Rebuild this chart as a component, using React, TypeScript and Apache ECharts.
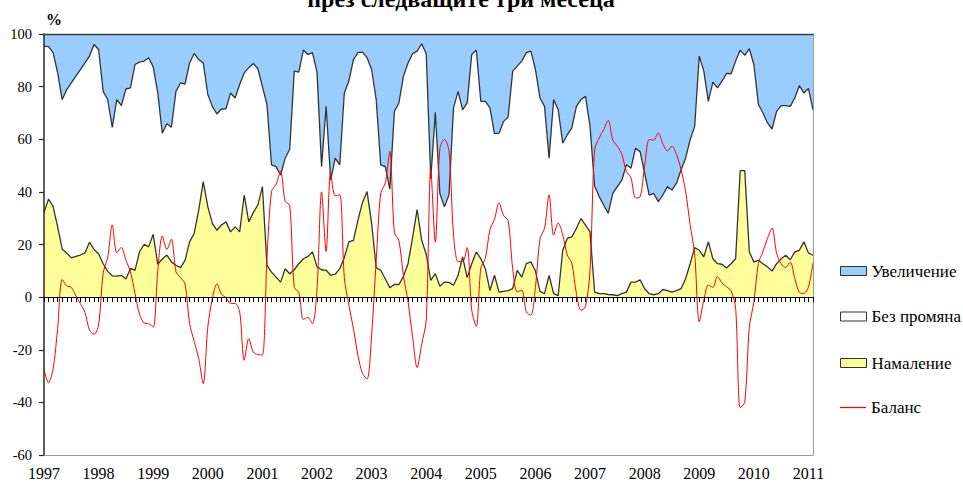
import React, { useEffect, useRef } from 'react';
import * as echarts from 'echarts';

// Monthly survey shares, Jan 1997 – Feb 2011 (%)
const startYear = 1997;

// "Увеличение" (increase) share
const increase: number[] = [
  4.6, 4.8, 7.1, 14.8, 24.9, 21.1, 18.6, 16, 13.5, 11, 8.4, 4,
  5.9, 21.8, 24.9, 35.5, 24.9, 27.2, 20.9, 20.5, 11.6, 10.7, 10.3, 9,
  12.5, 22.4, 37.7, 34.1, 35.4, 21.8, 18.6, 19, 11, 7.4, 9.7, 11,
  23, 27.5, 30.4, 28.5, 28.4, 22.4, 24.3, 19.2, 14.8, 12.8, 11.2, 13.2,
  20, 26.8, 49.7, 50.4, 53.6, 47.2, 43.8, 14.1, 14.5, 6.1, 7.8, 7.1,
  14.5, 50.4, 27.5, 55.5, 47.2, 49.7, 22.4, 17.9, 9.7, 7.1, 6.9, 9,
  13.5, 24.9, 49.7, 50.4, 59, 29.4, 26.2, 16, 11, 7.5, 6.5, 3.7,
  7.5, 55, 29.8, 60.6, 65.7, 61.2, 28.1, 21.8, 28.8, 26.2, 7.8, 6.1,
  25.6, 25.6, 28.1, 37.9, 37.7, 33.2, 31.6, 14.1, 12.2, 10.3, 7.1, 6.5,
  13.5, 24.3, 27.5, 47.2, 24.9, 28.8, 41.5, 38.3, 35.7, 27.5, 24.9, 23.7,
  35.1, 57.8, 61.8, 65, 68.2, 60.6, 58, 55.5, 49.7, 51, 43.4, 44.7,
  52.9, 61.2, 60.6, 63.7, 61.2, 58, 59.3, 56.7, 51.7, 47.2, 40.2, 35.1,
  8.4, 14.1, 25.6, 18.3, 20.5, 17.9, 15, 15.1, 10.3, 6.1, 8.1, 5.6,
  11.6, 26.8, 30, 33.8, 36.1, 29.4, 27.2, 27.2, 27.5, 24.3, 19.6, 22.4,
  20.7, 28.8,
];

// "Намаление" (decrease) share
const decrease: number[] = [
  32.1, 37.3, 34.4, 26.7, 18.2, 16.8, 14.9, 15.5, 16, 16.8, 20.9, 18.1,
  16.5, 12.7, 9.8, 8.1, 8, 8.3, 6.9, 10.9, 10.2, 17.2, 20.1, 19.1,
  23.9, 12.5, 14.5, 16, 13.4, 12.1, 11.2, 14, 21, 24.2, 33.1, 43.9,
  34.4, 28, 25.4, 27.4, 28.6, 24.8, 26.7, 24.8, 38.8, 28.6, 32.1, 35,
  42, 12.1, 9.5, 7.6, 5.7, 10.8, 8.9, 10.4, 12.7, 14.6, 15.5, 17.2,
  11.5, 10.4, 10.2, 8.3, 8.7, 10.8, 15, 21, 21.6, 29.3, 36, 40.1,
  28, 11.2, 10.2, 7, 3.6, 4.8, 4.8, 7.9, 12.7, 22.6, 33.3, 21.6,
  16.3, 6.4, 8.9, 4.1, 5.7, 5.6, 4.5, 8.3, 15.3, 7.4, 12.7, 17.2,
  14.6, 10.8, 2.5, 8.3, 1.9, 2.2, 2.5, 3.2, 10.2, 7.6, 12.7, 13.4,
  9.9, 2.2, 1.3, 8.3, 1.3, 0.6, 17.8, 22.3, 22.9, 26.1, 29.9, 27.4,
  24.8, 1.9, 1.3, 1.3, 1, 0.9, 0.6, 1.3, 1.9, 5.7, 5.7, 6.6,
  3.2, 1.3, 0.9, 1.3, 2.9, 2.5, 1.9, 2.5, 3.2, 7, 12.7, 18.8,
  17.8, 15.3, 21, 14.6, 12.7, 12.5, 11.1, 12.7, 14.6, 48.1, 48.1, 17.2,
  13.4, 14, 12.7, 11.5, 9.9, 12.7, 14.6, 15.9, 14.2, 17.2, 17.8, 21,
  16.8, 15.9,
];

const yTicks = { min: -60, max: 100, interval: 20 };

const months: string[] = increase.map(
  (_, i) => `${startYear + Math.floor(i / 12)}-${String((i % 12) + 1).padStart(2, '0')}`
);
// "Без промяна" = rest of 100%; "Баланс" = increase − decrease
const noChange: number[] = increase.map((v, i) => +(100 - v - decrease[i]).toFixed(1));
const balance: number[] = increase.map((v, i) => +(v - decrease[i]).toFixed(1));

const FONT = 'Liberation Serif, serif';

export default function App() {
  const ref = useRef<HTMLDivElement>(null);

  useEffect(() => {
    if (!ref.current) return;
    const chart = echarts.init(ref.current, undefined, { renderer: 'svg' });

    const legendText = { fontFamily: FONT, fontSize: 17, color: '#000' };
    const legendCommon = {
      orient: 'vertical',
      left: 840,
      padding: 0,
      itemWidth: 26,
      itemHeight: 9,
      selectedMode: false,
      textStyle: legendText,
    };

    const option: any = {
      animation: false,
      backgroundColor: '#ffffff',
      textStyle: { fontFamily: FONT },
      grid: { left: 44, right: 150, top: 34, bottom: 29, show: false },
      xAxis: [
        {
          type: 'category',
          data: months,
          boundaryGap: false,
          position: 'bottom',
          z: 10,
          axisLine: { show: true, onZero: false, lineStyle: { color: '#9a9a9a', width: 1 } },
          axisTick: { show: false },
          axisLabel: {
            show: true,
            interval: 11,
            formatter: (v: string) => v.slice(0, 4),
            fontFamily: FONT,
            fontSize: 16,
            color: '#000',
            margin: 10,
          },
          splitLine: { show: false },
        },
        {
          type: 'category',
          data: months,
          boundaryGap: false,
          position: 'bottom',
          z: 10,
          axisLine: { show: true, onZero: true, lineStyle: { color: '#000', width: 1 } },
          axisTick: { show: true, interval: 0, length: 5, inside: false, lineStyle: { color: '#000' } },
          axisLabel: { show: false },
          splitLine: { show: false },
        },
        {
          type: 'category',
          data: months,
          boundaryGap: false,
          position: 'top',
          z: 10,
          axisLine: { show: true, onZero: false, lineStyle: { color: '#3a3a3a', width: 1.3 } },
          axisTick: { show: false },
          axisLabel: { show: false },
          splitLine: { show: false },
        },
      ],
      yAxis: [
        {
          type: 'value',
          ...yTicks,
          position: 'left',
          z: 10,
          axisLine: { show: true, onZero: false, lineStyle: { color: '#2a2a2a', width: 1.5 } },
          axisTick: { show: true, length: 5, lineStyle: { color: '#2a2a2a', width: 1.2 } },
          axisLabel: { show: true, fontFamily: FONT, fontSize: 14.5, color: '#000', margin: 12 },
          splitLine: { show: false },
        },
        {
          type: 'value',
          ...yTicks,
          position: 'right',
          z: 10,
          axisLine: { show: true, onZero: false, lineStyle: { color: '#9a9a9a', width: 1 } },
          axisTick: { show: false },
          axisLabel: { show: false },
          splitLine: { show: false },
        },
      ],
      legend: [
        {
          ...legendCommon,
          top: 262.5,
          data: [{ name: 'Увеличение', icon: 'rect', itemStyle: { color: '#99CCFF', borderColor: '#333', borderWidth: 1 } }],
        },
        {
          ...legendCommon,
          top: 308,
          data: [{ name: 'Без промяна', icon: 'rect', itemStyle: { color: '#FFFFFF', borderColor: '#333', borderWidth: 1 } }],
        },
        {
          ...legendCommon,
          top: 354.5,
          data: [{ name: 'Намаление', icon: 'rect', itemStyle: { color: '#FFFF99', borderColor: '#333', borderWidth: 1 } }],
        },
        {
          ...legendCommon,
          top: 399,
          itemHeight: 1.2,
          data: [{ name: 'Баланс', icon: 'rect', itemStyle: { color: '#FF0000', borderWidth: 0 } }],
        },
      ],
      graphic: [
        {
          type: 'text',
          x: 461,
          y: -1.5,
          style: {
            text: 'през следващите три месеца',
            font: `bold 24px ${FONT}`,
            fill: '#000',
            textAlign: 'center',
            textVerticalAlign: 'middle',
          },
        },
        {
          type: 'text',
          x: 54,
          y: 19,
          style: {
            text: '%',
            font: `bold 16px ${FONT}`,
            fill: '#000',
            textAlign: 'center',
            textVerticalAlign: 'middle',
          },
        },
      ],
      series: [
        {
          name: 'Намаление',
          type: 'line',
          stack: 'shares',
          data: decrease,
          symbol: 'none',
          z: 4,
          lineStyle: { color: '#333', width: 1.3 },
          itemStyle: { color: '#FFFF99' },
          areaStyle: { color: '#FFFF99', opacity: 1 },
        },
        {
          name: 'Без промяна',
          type: 'line',
          stack: 'shares',
          data: noChange,
          symbol: 'none',
          z: 3,
          lineStyle: { color: '#333', width: 1.3 },
          itemStyle: { color: '#FFFFFF' },
          areaStyle: { color: '#FFFFFF', opacity: 1 },
        },
        {
          name: 'Увеличение',
          type: 'line',
          stack: 'shares',
          data: increase,
          symbol: 'none',
          z: 2,
          lineStyle: { color: '#333', width: 0 },
          itemStyle: { color: '#99CCFF' },
          areaStyle: { color: '#99CCFF', opacity: 1 },
        },
        {
          name: 'Баланс',
          type: 'line',
          data: balance,
          symbol: 'none',
          smooth: 0.3,
          z: 6,
          lineStyle: { color: '#FF0000', width: 1 },
          itemStyle: { color: '#FF0000' },
        },
      ],
    };

    chart.setOption(option);
    return () => chart.dispose();
  }, []);

  return (
    <div
      ref={ref}
      style={{ position: 'fixed', left: 0, top: 0, width: 963, height: 484, background: '#fff' }}
    />
  );
}
